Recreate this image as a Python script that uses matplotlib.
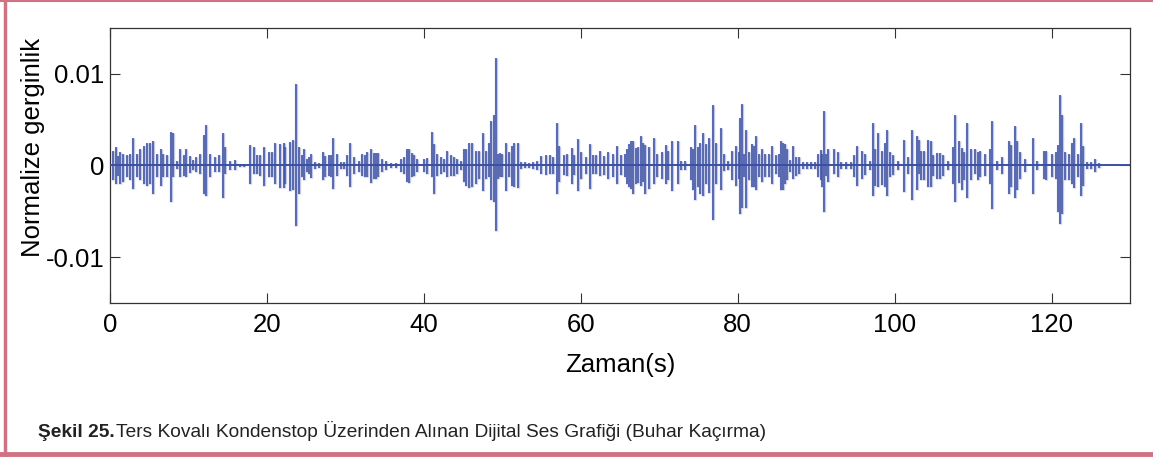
import numpy as np
import matplotlib
matplotlib.use('Agg')
import matplotlib.pyplot as plt
from matplotlib import font_manager
from matplotlib.lines import Line2D

# spike events of the recorded sound: time (s), positive and negative peak (x1e-3)
spike_t = [0.43, 0.77, 1.05, 1.28, 1.70, 2.13, 2.55, 2.89, 3.41, 3.83, 4.38, 4.68, 5.11, 5.45, 5.96,
           6.47, 6.81, 7.24, 7.79, 8.09, 8.51, 8.94, 9.37, 9.71, 10.22, 10.60, 10.98, 11.49, 11.92, 12.26,
           12.77, 13.41, 13.83, 14.39, 14.69, 15.32, 15.96, 16.60, 17.11, 17.88, 18.30, 18.73, 19.16, 19.58,
           20.22, 20.65, 21.07, 21.71, 22.14, 22.35, 22.99, 23.33, 23.75, 24.05, 24.48, 24.78, 25.05, 25.33,
           25.63, 26.18, 26.60,
           27.17, 27.46, 27.89, 28.19, 28.48, 28.95, 29.50, 29.85, 30.23, 30.57, 31.08, 31.72, 32.15, 32.45,
           32.78, 33.21, 33.60, 33.85, 34.15, 34.70, 35.12, 35.80, 36.40, 37.04, 37.47, 37.89, 38.11, 38.45,
           38.75, 39.17, 40.02, 40.45, 41.00, 41.30, 41.72, 42.15, 42.57, 43.00, 43.43, 43.85, 44.28, 44.70,
           45.13, 45.43, 45.77, 46.19, 46.70, 47.05, 47.56, 47.90, 48.32, 48.62, 48.88, 49.13, 49.40, 49.68,
           49.94, 50.45, 50.87, 51.17, 51.51, 51.94, 52.40, 52.90, 53.40, 53.90, 54.45, 54.92, 55.56, 56.11,
           56.50, 56.96, 57.26, 57.90, 58.30, 58.83, 59.15, 59.69, 60.03, 60.66, 61.13, 61.60, 62.00, 62.50,
           63.00, 63.52, 64.05, 64.58, 65.13, 65.65, 65.90, 66.20, 66.41, 66.67, 67.05, 67.35, 67.69, 67.95,
           68.24, 68.75, 69.30, 69.73, 70.33, 70.88, 71.10, 71.60, 72.37, 72.80, 73.30, 74.00, 74.30, 74.50,
           74.93, 75.20, 75.57, 76.00, 76.40, 76.84, 77.27, 77.90, 78.25, 78.75, 79.27, 79.73, 80.10, 80.33,
           80.54, 80.80, 81.10, 81.45, 81.82, 82.08, 82.37, 82.67, 83.10, 83.45, 83.95, 84.42, 84.93, 85.23,
           85.48, 85.78, 86.08, 86.33, 86.63, 87.10, 87.40, 87.82, 88.30, 88.80, 89.30, 89.80, 90.25, 90.59,
           90.76, 90.97, 91.20, 91.53, 92.30, 92.80, 93.20, 93.80, 94.40, 94.85, 95.15, 95.80, 96.21, 96.85,
           97.27, 97.49, 97.83, 98.34, 98.76, 99.06, 99.40, 99.83, 100.47, 101.19, 101.66, 102.25, 102.80,
           103.10, 103.40, 103.80, 104.30, 104.60, 104.95, 105.40, 105.75, 106.10, 106.85, 107.40, 107.70,
           108.20, 108.55, 108.90, 109.28, 109.75, 110.18, 110.60, 110.90, 111.53, 112.17, 112.38, 113.02,
           113.66, 114.51, 114.85, 115.28, 115.58, 116.00, 116.64, 117.62, 118.20, 118.98, 119.28, 120.05,
           120.56, 120.81, 121.03, 121.32, 121.75, 122.18, 122.60, 122.90, 123.33, 123.75, 124.00, 124.50,
           125.00, 125.50, 126.00]
spike_hi = [1.6, 2.0, 1.0, 1.5, 1.3, 1.1, 1.3, 3.0, 1.3, 1.8, 2.1, 2.4, 2.4, 2.7, 1.3,
            1.8, 1.3, 1.1, 3.7, 3.5, 0.5, 1.8, 1.1, 1.8, 1.0, 0.6, 0.9, 1.2, 3.3, 4.4,
            1.3, 0.9, 1.1, 3.5, 2.0, 0.5, 0.6, 0.2, 0.2, 2.2, 2.0, 1.1, 1.1, 2.0,
            1.5, 1.5, 2.4, 2.3, 2.4, 2.0, 2.6, 2.8, 8.9, 2.0, 1.1, 1.8, 0.7, 0.9,
            1.3, 0.4, 0.3,
            1.5, 1.0, 1.1, 1.1, 3.0, 1.2, 0.4, 0.4, 1.1, 2.5, 0.9, 0.5, 1.2, 1.1,
            1.5, 1.8, 1.4, 1.4, 1.4, 0.7, 0.5, 0.3, 0.3, 0.7, 0.9, 1.8, 1.8, 1.4,
            1.1, 0.7, 0.7, 0.8, 3.7, 2.3, 1.2, 0.9, 0.7, 1.6, 1.1, 0.9, 0.7, 0.5,
            1.8, 1.8, 2.5, 2.4, 1.6, 1.6, 3.5, 1.6, 2.5, 4.8, 5.5, 11.7, 1.3, 1.4,
            1.3, 2.5, 1.5, 2.1, 2.5, 2.5, 0.4, 0.4, 0.3, 0.4, 0.5, 1.0, 1.1, 1.1,
            0.9, 4.6, 2.1, 1.1, 1.2, 1.9, 1.1, 2.9, 1.5, 0.9, 2.3, 1.1, 1.1, 1.6,
            1.0, 1.5, 1.3, 2.1, 1.1, 1.3, 1.8, 2.3, 2.7, 2.7, 1.9, 2.0, 3.2, 2.5,
            2.2, 2.0, 3.0, 1.3, 1.5, 2.2, 1.6, 2.7, 2.7, 0.5, 0.5, 2.0, 1.8, 4.4,
            2.0, 2.5, 3.5, 2.3, 3.0, 6.6, 2.5, 4.1, 1.3, 0.5, 1.6, 2.1, 1.5, 5.2,
            6.7, 1.3, 3.9, 1.5, 2.3, 2.1, 3.2, 1.3, 1.8, 1.3, 1.2, 2.1, 1.1, 1.2,
            2.7, 2.5, 2.3, 1.8, 0.6, 2.1, 0.9, 0.9, 0.4, 0.4, 0.4, 0.4, 1.3, 1.7,
            1.3, 5.9, 1.3, 1.8, 1.8, 1.5, 0.4, 0.4, 0.4, 1.1, 2.1, 1.6, 1.3, 0.5,
            4.6, 1.8, 3.5, 1.6, 2.5, 3.9, 1.5, 1.1, 0.5, 2.8, 0.9, 3.9, 3.2,
            2.8, 1.6, 1.6, 2.8, 2.7, 1.1, 1.4, 1.4, 1.1, 0.5, 2.0, 5.5,
            2.7, 1.9, 1.5, 4.6, 1.8, 1.8, 1.5, 1.6, 1.2, 1.8, 4.8, 0.5,
            0.9, 2.7, 2.2, 4.3, 2.7, 1.5, 0.7, 3.0, 0.5, 1.6, 1.6, 1.3,
            1.5, 2.2, 7.7, 5.5, 1.5, 1.3, 2.5, 3.0, 1.3, 4.6, 2.1, 0.4,
            0.4, 0.7, 0.3]
spike_lo = [-1.6, -2.0, -1.1, -2.0, -1.8, -1.3, -1.6, -2.6, -1.3, -1.6, -2.0, -2.2, -2.0, -3.1, -1.3,
            -2.2, -1.3, -1.3, -4.0, -1.3, -0.4, -1.3, -1.1, -1.3, -0.8, -0.5, -0.7, -0.9, -3.1, -3.3,
            -1.3, -0.7, -0.7, -3.5, -0.9, -0.5, -0.5, -0.2, -0.2, -2.0, -0.9, -0.9, -1.1, -2.2,
            -1.3, -1.3, -2.0, -2.5, -2.5, -2.0, -2.8, -2.7, -6.6, -3.1, -1.3, -1.6, -0.7, -0.9,
            -1.4, -0.4, -0.3,
            -1.6, -1.3, -1.1, -1.3, -2.6, -1.1, -0.4, -0.4, -1.1, -2.4, -0.9, -0.7, -1.1, -1.3,
            -1.3, -1.9, -1.5, -1.5, -1.3, -0.7, -0.5, -0.3, -0.3, -0.7, -0.9, -1.8, -1.9, -1.3,
            -1.1, -0.7, -0.7, -0.9, -1.3, -3.1, -1.1, -0.9, -0.7, -1.3, -1.1, -1.1, -0.9, -0.5,
            -1.8, -2.2, -2.5, -2.4, -2.0, -1.5, -2.8, -1.5, -1.3, -3.8, -4.0, -7.1, -1.5, -1.3,
            -1.3, -2.8, -1.3, -2.2, -2.4, -2.5, -0.4, -0.3, -0.3, -0.4, -0.5, -0.9, -1.0, -0.9,
            -0.9, -3.1, -1.8, -1.0, -1.1, -2.0, -1.0, -2.8, -1.5, -0.9, -2.6, -0.9, -0.9, -1.1,
            -1.0, -1.5, -1.3, -2.0, -1.0, -1.3, -2.0, -2.3, -2.6, -3.1, -2.0, -1.9, -2.2, -1.8,
            -3.1, -2.6, -2.0, -1.3, -1.5, -2.0, -1.6, -2.8, -2.0, -0.5, -0.5, -1.6, -2.7, -3.8,
            -2.4, -3.1, -3.3, -2.0, -3.0, -6.0, -2.0, -2.7, -0.6, -0.5, -1.6, -2.2, -1.5, -5.3,
            -4.6, -1.3, -4.6, -1.6, -2.4, -2.3, -2.7, -1.3, -1.8, -1.3, -1.3, -2.0, -0.9, -1.3,
            -2.7, -2.7, -2.0, -1.6, -0.7, -1.5, -1.1, -0.9, -0.4, -0.4, -0.4, -0.4, -1.3, -1.6,
            -2.4, -5.1, -1.1, -1.8, -0.9, -1.3, -0.4, -0.4, -0.4, -1.3, -2.2, -1.5, -1.0, -0.5,
            -3.3, -2.2, -2.4, -2.1, -2.4, -3.3, -1.3, -1.0, -0.5, -2.9, -0.9, -3.8, -2.7,
            -0.9, -1.6, -1.6, -2.4, -2.4, -1.1, -1.5, -1.5, -1.1, -0.5, -2.0, -4.0,
            -1.9, -2.7, -1.6, -3.5, -1.6, -0.9, -1.6, -1.3, -1.1, -2.0, -4.8, -0.5,
            -0.9, -3.1, -2.4, -3.5, -2.7, -1.5, -0.7, -3.1, -0.5, -1.5, -1.6, -1.3,
            -1.5, -5.1, -6.4, -5.3, -1.6, -1.6, -2.0, -2.5, -1.3, -3.3, -2.2, -0.4,
            -0.4, -0.7, -0.3]

x_ticks = [0, 20, 40, 60, 80, 100, 120]
y_ticks = [-0.01, 0, 0.01]
y_ticklabels = ['-0.01', '0', '0.01']

names = {f.name for f in font_manager.fontManager.ttflist}
cap_font = 'Liberation Sans Narrow' if 'Liberation Sans Narrow' in names else 'Liberation Sans'
cap_size = 15 if cap_font == 'Liberation Sans Narrow' else 13.8
plt.rcParams['font.family'] = ['Liberation Sans', 'DejaVu Sans']

line_col = '#3b4fa3'
halo_col = '#c2c9e6'

fig = plt.figure(figsize=(11.53, 4.57), dpi=100)
ax = fig.add_axes([0.0954, 0.337, 0.8847, 0.6018])

t = np.array(spike_t)
hi = np.array(spike_hi) * 1e-3
lo = np.array(spike_lo) * 1e-3
# light halo behind the spikes, then the trace itself
ax.vlines(t, lo, hi, color=halo_col, lw=2.4, zorder=2)
ax.axhline(0, color=line_col, lw=1.4, zorder=3)
ax.vlines(t, lo, hi, color=line_col, lw=1.1, zorder=4)

ax.set_xlim(0, 130)
ax.set_ylim(-0.015, 0.015)
ax.set_xticks(x_ticks)
ax.set_yticks(y_ticks)
ax.set_yticklabels(y_ticklabels)
ax.tick_params(direction='in', length=7, width=0.8, top=True, right=True,
               labelsize=18.5, color='#333333')
ax.tick_params(axis='x', pad=7)
ax.tick_params(axis='y', pad=4)
for s in ax.spines.values():
    s.set_color('#333333')
    s.set_linewidth(0.9)

ax.set_xlabel('Zaman(s)', fontsize=18.5, labelpad=12)
ax.set_ylabel('Normalize gerginlik', fontsize=18.5)
ax.yaxis.set_label_coords(-0.0637, 0.567)

# caption: bold figure number followed by regular text
cap1 = fig.text(0.033, 0.044, 'Şekil 25.', fontsize=cap_size, fontweight='bold',
                family=[cap_font, 'DejaVu Sans'], va='baseline', color='#222222')
fig.canvas.draw()
bb = cap1.get_window_extent()
fig.text(bb.x1 / fig.bbox.width + 0.001, 0.044,
         'Ters Kovalı Kondenstop Üzerinden Alınan Dijital Ses Grafiği (Buhar Kaçırma)',
         fontsize=cap_size, family=[cap_font, 'DejaVu Sans'], va='baseline', color='#222222')

# pink page frame
frame_col = '#cf7384'
fig.add_artist(Line2D([0.0045, 0.0045], [0.0, 1.0], color=frame_col, lw=2.5, transform=fig.transFigure))
fig.add_artist(Line2D([0.0, 1.0], [0.998, 0.998], color=frame_col, lw=1.5, transform=fig.transFigure))
fig.add_artist(Line2D([0.0, 1.0], [0.006, 0.006], color=frame_col, lw=3.5, transform=fig.transFigure))

fig.savefig('out.png', dpi=100)
